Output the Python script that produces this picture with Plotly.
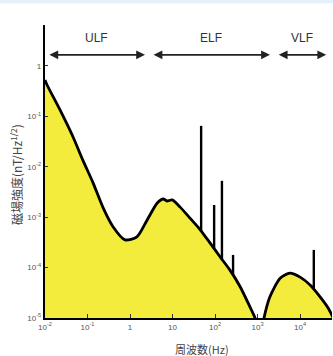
import numpy as np
import plotly.graph_objects as go

# ---- data ----
hump1_f = [0.01, 0.0112, 0.0224, 0.0457, 0.0776, 0.135, 0.229, 0.398, 0.759, 1.45, 2.51,
           4.37, 6.03, 7.41, 9.77, 15.1, 25.7, 44.7, 75.9, 132, 224, 389, 661, 871, 1000]
hump1_b = [0.525, 0.417, 0.135, 0.0389, 0.0135, 0.00479, 0.00158, 6.46e-4, 3.55e-4, 4.07e-4, 8.71e-4,
           1.91e-3, 2.29e-3, 2.09e-3, 2.19e-3, 1.58e-3, 9.55e-4, 5.62e-4, 3.09e-4, 1.62e-4, 8.9e-5,
           4.17e-5, 1.66e-5, 1.0e-5, 5.75e-6]
hump2_f = [1259, 1413, 1950, 3390, 5750, 10000, 17400, 29500, 45700, 60300]
hump2_b = [5.75e-6, 1.0e-5, 2.63e-5, 6.17e-5, 7.76e-5, 6.46e-5, 4.47e-5, 2.63e-5, 1.58e-5, 1.0e-5]

spike_f = [47, 95, 145, 265, 21000]
spike_top = [0.0646, 1.74e-3, 5.25e-3, 1.78e-4, 2.24e-4]

bands = ["ULF", "ELF", "VLF"]
band_lo = [0.0117, 3.3, 2900]
band_hi = [2.25, 1950, 41000]

x_tickvals = [0.01, 0.1, 1, 10, 100, 1000, 10000]
x_ticktext = ["10<sup>-2</sup>", "10<sup>-1</sup>", "1", "10", "10<sup>2</sup>", "10<sup>3</sup>", "10<sup>4</sup>"]
y_tickvals = [1, 0.1, 0.01, 0.001, 1e-4, 1e-5]
y_ticktext = ["1", "10<sup>-1</sup>", "10<sup>-2</sup>", "10<sup>-3</sup>", "10<sup>-4</sup>", "10<sup>-5</sup>"]

YELLOW = "#f3ec3c"
FLOOR = 1e-7

fig = go.Figure()
for hx, hy in [(hump1_f, hump1_b), (hump2_f, hump2_b)]:
    fig.add_trace(go.Scatter(x=hx, y=[FLOOR] * len(hx), mode="lines",
                             line=dict(width=0, color=YELLOW), hoverinfo="skip", showlegend=False))
    fig.add_trace(go.Scatter(x=hx, y=hy, mode="lines", fill="tonexty", fillcolor=YELLOW,
                             line=dict(color="black", width=2.8, shape="spline", smoothing=0.7),
                             showlegend=False))

# spikes start at the curve
all_f = np.log10(hump1_f + hump2_f)
all_b = np.log10(hump1_b + hump2_b)
sx, sy = [], []
for f, top in zip(spike_f, spike_top):
    base = 10 ** np.interp(np.log10(f), all_f, all_b)
    sx += [f, f, None]
    sy += [base, top, None]
fig.add_trace(go.Scatter(x=sx, y=sy, mode="lines", line=dict(color="black", width=2.4),
                         showlegend=False))

# band arrows and labels
for name, lo, hi in zip(bands, band_lo, band_hi):
    fig.add_annotation(x=np.log10(hi), y=0.218, ax=np.log10(lo), ay=0.218,
                       xref="x", yref="y", axref="x", ayref="y", text="",
                       showarrow=True, arrowhead=2, arrowside="end+start",
                       arrowsize=1.1, arrowwidth=1.6, arrowcolor="#222")
    fig.add_annotation(x=(np.log10(lo) + np.log10(hi)) / 2, y=0.556, xref="x", yref="y",
                       text=name, showarrow=False,
                       font=dict(family="Liberation Sans", size=12, color="#333"))

fig.add_annotation(x=-0.101, y=0.488, xref="paper", yref="paper", textangle=-90,
                   xanchor="center", yanchor="middle",
                   text="磁場強度(nT/Hz<sup>1/2</sup>)", showarrow=False,
                   font=dict(family="Noto Sans CJK JP", size=12, color="#444"))
fig.add_annotation(x=0.547, y=-0.106, xref="paper", yref="paper",
                   xanchor="center", yanchor="middle",
                   text="周波数(Hz)", showarrow=False,
                   font=dict(family="Noto Sans CJK JP", size=11, color="#444"))

fig.add_shape(type="rect", xref="paper", yref="paper", x0=-0.2, x1=1.1, y0=1.074, y1=1.09,
              fillcolor="#e6f0f8", line=dict(width=0), layer="below")

fig.update_xaxes(type="log", range=[-2, 4.75], showgrid=False, zeroline=False,
                 showline=True, linecolor="black", linewidth=2,
                 ticks="inside", ticklen=4, tickcolor="#333", tickwidth=1,
                 tickvals=x_tickvals, ticktext=x_ticktext,
                 tickfont=dict(family="Liberation Sans", size=8, color="#555"))
fig.update_yaxes(type="log", range=[-5, 0.81], showgrid=False, zeroline=False,
                 showline=True, linecolor="black", linewidth=2.4,
                 ticks="inside", ticklen=3, tickcolor="#333", tickwidth=1,
                 tickvals=y_tickvals, ticktext=y_ticktext,
                 tickfont=dict(family="Liberation Sans", size=8, color="#555"))

fig.update_layout(width=333, height=356, margin=dict(l=45, r=1, t=25, b=38),
                  paper_bgcolor="white", plot_bgcolor="white")

fig.write_html("out.html")
